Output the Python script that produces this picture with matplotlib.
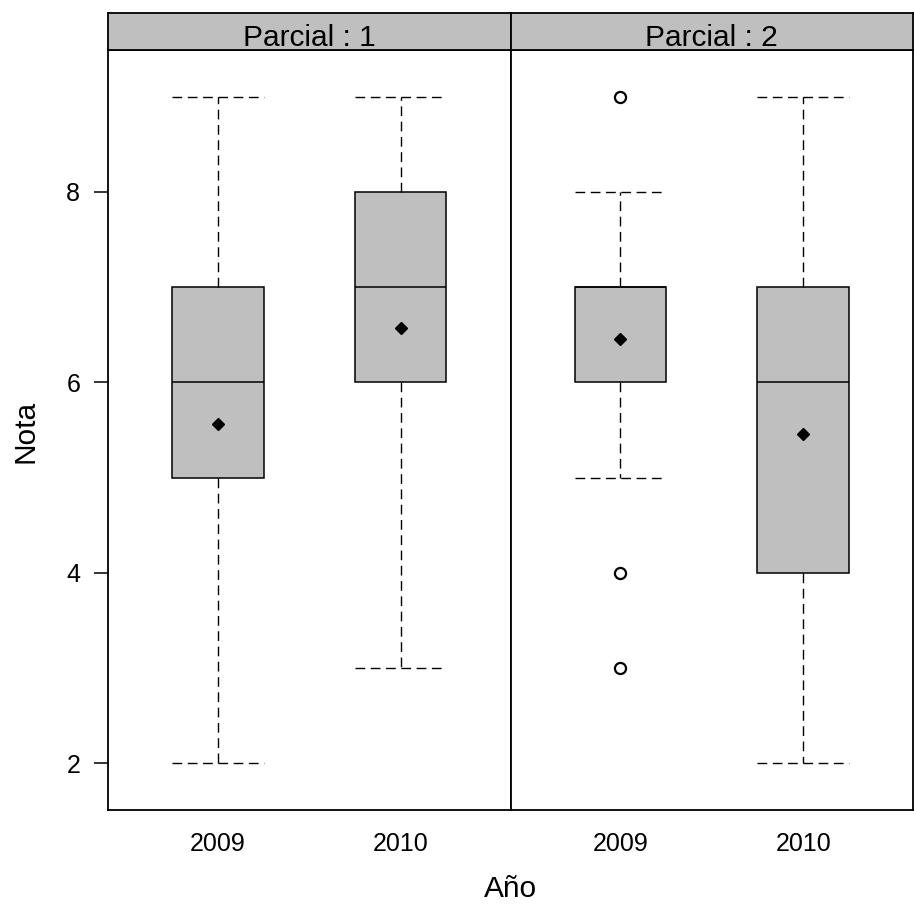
import matplotlib.pyplot as plt

plt.rcParams['font.family'] = ['Liberation Sans', 'DejaVu Sans']

panels = ['Parcial : 1', 'Parcial : 2']
years = ['2009', '2010']

# per panel, per year: lower whisker, Q1, median, Q3, upper whisker, mean, outliers
whislo = [[2, 3], [5, 2]]
q1 = [[5, 6], [6, 4]]
med = [[6, 7], [7, 6]]
q3 = [[7, 8], [7, 7]]
whishi = [[9, 9], [8, 9]]
means = [[5.56, 6.57], [6.46, 5.46]]
fliers = [[[], []], [[9, 4, 3], []]]

gray = '#bfbfbf'
dash = (0, (7, 4))

fig = plt.figure(figsize=(9.14, 9.07), dpi=100)
W, H = 914, 907
left, right, top, bottom = 108, 913, 50, 810
strip_top = 12.5
pw = (right - left) / 2

for i, name in enumerate(panels):
    x0 = left + i * pw
    ax = fig.add_axes([x0 / W, 1 - bottom / H, pw / W, (bottom - top) / H])
    stats = []
    for j, yr in enumerate(years):
        stats.append(dict(whislo=whislo[i][j], q1=q1[i][j], med=med[i][j],
                          q3=q3[i][j], whishi=whishi[i][j], mean=means[i][j],
                          fliers=fliers[i][j], label=yr))
    ax.bxp(stats, positions=[1, 2], widths=0.5, capwidths=0.5,
           showmeans=True, patch_artist=True,
           boxprops=dict(facecolor=gray, edgecolor='black', linewidth=1.1),
           medianprops=dict(color='black', linewidth=1.1),
           whiskerprops=dict(color='black', linewidth=1.0, linestyle=dash),
           capprops=dict(color='black', linewidth=1.0, linestyle=dash),
           meanprops=dict(marker='D', markerfacecolor='black',
                          markeredgecolor='black', markersize=6.5),
           flierprops=dict(marker='o', markerfacecolor='none',
                           markeredgecolor='black', markersize=8,
                           markeredgewidth=1.6))
    ax.set_xlim(0.4, 2.6)
    ax.set_ylim(1.51, 9.49)
    ax.set_yticks([2, 4, 6, 8])
    ax.tick_params(axis='x', length=0, labelsize=18, pad=16)
    ax.tick_params(axis='y', length=10, width=1.1, labelsize=18, pad=10,
                   right=False)
    if i > 0:
        ax.tick_params(axis='y', left=False, labelleft=False)
    for s in ax.spines.values():
        s.set_linewidth(1.3)

    sax = fig.add_axes([x0 / W, 1 - top / H, pw / W, (top - strip_top) / H])
    sax.set_facecolor(gray)
    sax.set_xticks([])
    sax.set_yticks([])
    for s in sax.spines.values():
        s.set_linewidth(1.3)
    sax.text(0.5, 0.11, name, ha='center', va='baseline', fontsize=21.5,
             transform=sax.transAxes)

fig.text((left + right) / 2 / W, 1 - 889 / H, 'Año', ha='center',
         va='center', fontsize=21.5)
fig.text(26 / W, 1 - 431 / H, 'Nota', ha='center', va='center',
         fontsize=21.5, rotation=90)

fig.savefig('out.png', dpi=100)
